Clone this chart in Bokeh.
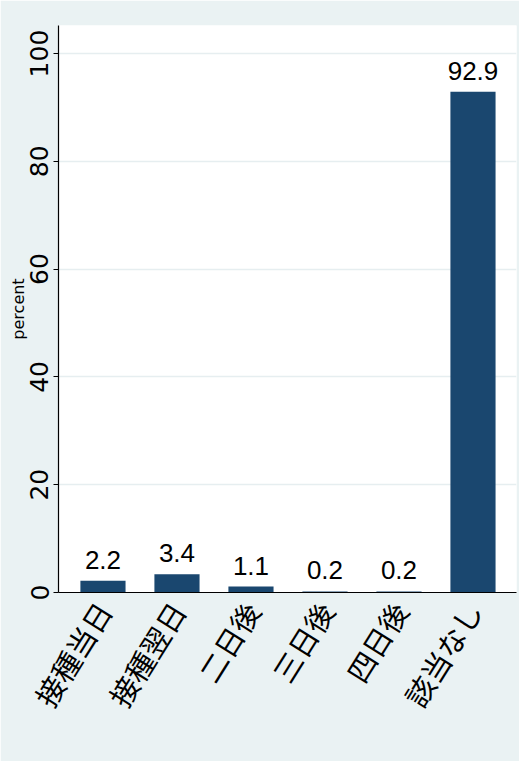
import math
from bokeh.plotting import figure
from bokeh.models import Range1d, FixedTicker, ColumnDataSource
from bokeh.embed import file_html
from bokeh.resources import INLINE
from bokeh.core.properties import value

categories = ["接種当日", "接種翌日", "二日後", "三日後", "四日後", "該当なし"]
percents = [2.2, 3.4, 1.1, 0.2, 0.2, 92.9]
y_ticks = [0, 20, 40, 60, 80, 100]

positions = list(range(1, len(categories) + 1))
labels = [f"{v:.1f}" for v in percents]

src = ColumnDataSource(dict(x=positions, top=percents, label=labels))

p = figure(width=519, height=761, output_backend="svg", toolbar_location=None,
           x_range=Range1d(0.399, 6.588), y_range=Range1d(0, 105.2),
           min_border_left=58, min_border_top=25, min_border_right=3, min_border_bottom=169)

p.background_fill_color = "white"
p.border_fill_color = "#EAF2F3"
p.outline_line_color = None

p.vbar(x="x", top="top", bottom=0, width=0.61, source=src,
       fill_color="#1A476F", line_color=None)

p.text(x="x", y="top", text="label", source=src,
       text_align="center", text_baseline="bottom", y_offset=-12,
       text_font=value("Liberation Sans"),
       text_font_size="26px", text_color="black")

# x axis
p.xaxis.ticker = FixedTicker(ticks=positions)
p.xaxis.major_label_overrides = {i: c for i, c in zip(positions, categories)}
p.xaxis.major_label_orientation = math.radians(58)
p.xaxis.major_label_text_font = "Noto Sans CJK JP"
p.xaxis.major_label_text_font_size = "29px"
p.xaxis.major_label_text_color = "black"
p.xaxis.major_tick_line_color = None
p.xaxis.minor_tick_line_color = None
p.xaxis.major_label_standoff = 6
p.xaxis.axis_line_color = "black"
p.xaxis.axis_line_width = 1.2

# y axis
p.yaxis.ticker = FixedTicker(ticks=y_ticks)
p.yaxis.major_label_orientation = "vertical"
p.yaxis.major_label_text_font = "DejaVu Sans"
p.yaxis.major_label_text_font_size = "25px"
p.yaxis.major_label_text_color = "black"
p.yaxis.major_tick_out = 5
p.yaxis.major_tick_in = 0
p.yaxis.minor_tick_line_color = None
p.yaxis.major_label_standoff = 5
p.yaxis.axis_line_color = "black"
p.yaxis.axis_line_width = 1.2
p.yaxis.axis_label = "percent"
p.yaxis.axis_label_text_font = "DejaVu Sans"
p.yaxis.axis_label_text_font_style = "normal"
p.yaxis.axis_label_text_font_size = "16px"
p.yaxis.axis_label_text_color = "black"
p.yaxis.axis_label_standoff = 0

p.xgrid.grid_line_color = None
p.ygrid.ticker = FixedTicker(ticks=y_ticks)
p.ygrid.grid_line_color = "#E6EEF0"
p.ygrid.grid_line_width = 1.5

open("out.html", "w").write(file_html(p, INLINE))
